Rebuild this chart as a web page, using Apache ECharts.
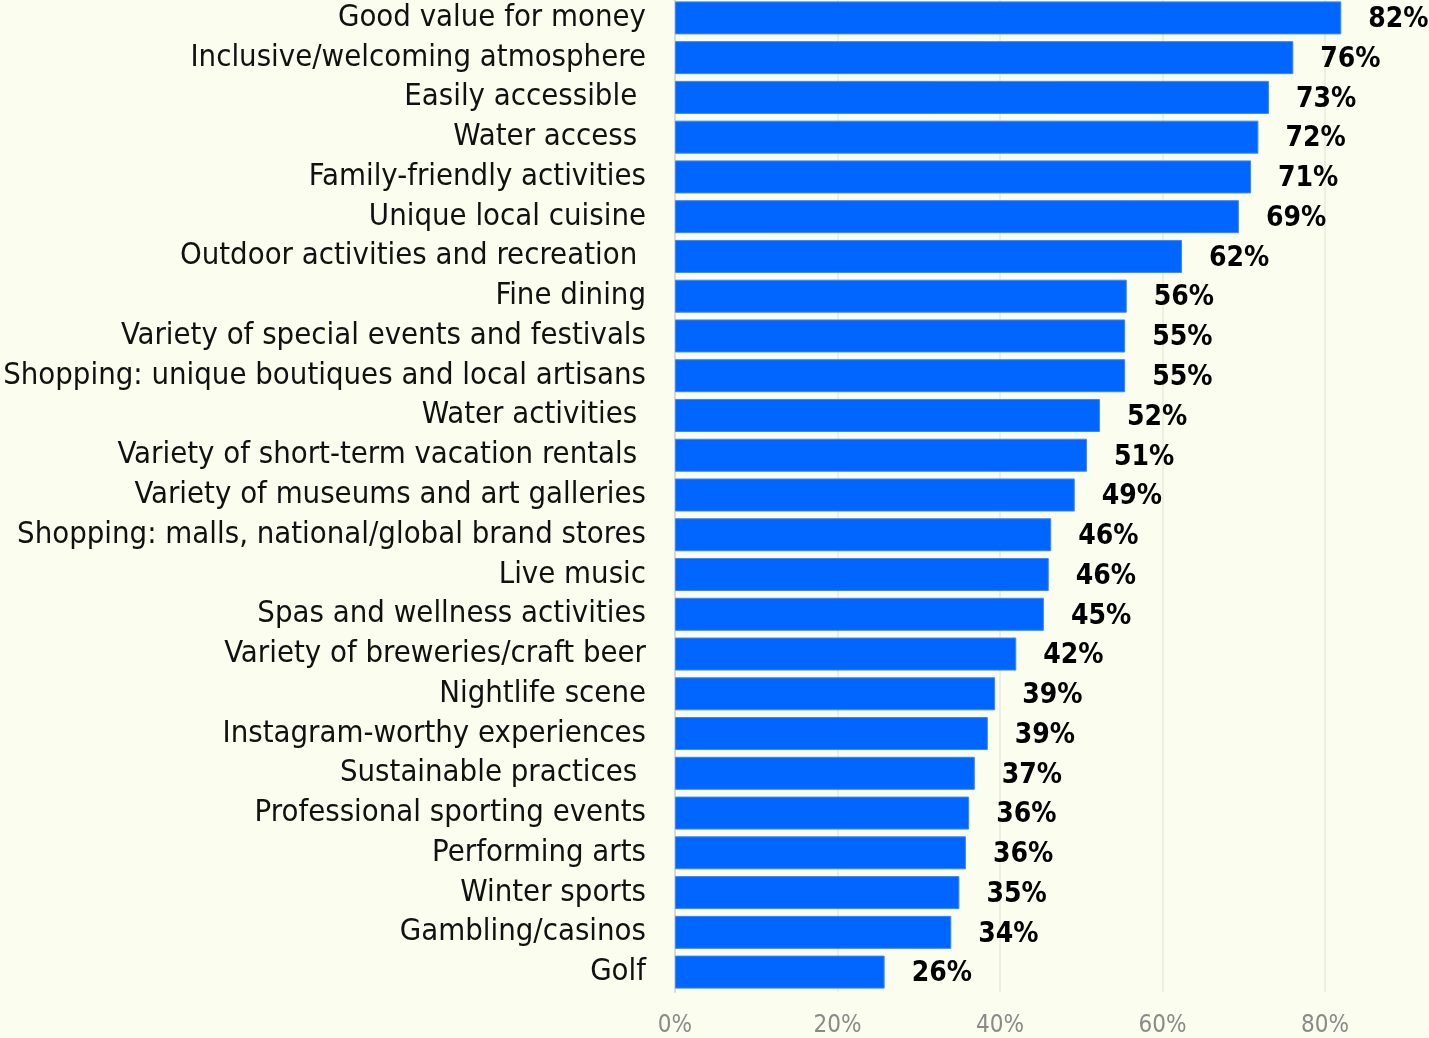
<!DOCTYPE html>
<html>
<head>
<meta charset="utf-8">
<script src="https://cdn.jsdelivr.net/npm/echarts@6/dist/echarts.min.js"></script>
<style>
  html, body { margin: 0; padding: 0; background: #fbfdee; }
  #chart { width: 1429px; height: 1038px; }
</style>
</head>
<body>
<div id="chart"></div>
<script>
const categories = [
  "Good value for money",
  "Inclusive/welcoming atmosphere",
  "Easily accessible ",
  "Water access ",
  "Family-friendly activities",
  "Unique local cuisine",
  "Outdoor activities and recreation ",
  "Fine dining",
  "Variety of special events and festivals",
  "Shopping: unique boutiques and local artisans",
  "Water activities ",
  "Variety of short-term vacation rentals ",
  "Variety of museums and art galleries",
  "Shopping: malls, national/global brand stores",
  "Live music",
  "Spas and wellness activities",
  "Variety of breweries/craft beer",
  "Nightlife scene",
  "Instagram-worthy experiences",
  "Sustainable practices ",
  "Professional sporting events",
  "Performing arts",
  "Winter sports",
  "Gambling/casinos",
  "Golf"
];

// share of respondents (%)
const values = [
  82.0, 76.1, 73.1, 71.8, 70.9, 69.4, 62.4, 55.6, 55.4, 55.4,
  52.3, 50.7, 49.2, 46.3, 46.0, 45.4, 42.0, 39.4, 38.5, 36.9,
  36.2, 35.8, 35.0, 34.0, 25.8
];

const font = "'DejaVu Sans Condensed', 'Liberation Sans Narrow', sans-serif";

const chart = echarts.init(document.getElementById("chart"));

chart.setOption({
  backgroundColor: "#fbfdee",
  animation: false,
  // x scale ends at 80%; the top bar is allowed to run past it
  grid: {
    left: 675, right: 104, top: -2, bottom: 46,
    containLabel: false, outerBoundsMode: "none"
  },
  xAxis: {
    type: "value",
    min: 0,
    max: 80,
    interval: 20,
    axisLine: { show: false },
    axisTick: { show: false },
    splitLine: { lineStyle: { color: "#e9eadc", width: 1.5 } },
    axisLabel: {
      color: "#8a8a8a",
      fontSize: 24,
      fontFamily: font,
      margin: 22,
      formatter: "{value}%"
    }
  },
  yAxis: {
    type: "category",
    inverse: true,
    data: categories,
    axisLine: { show: true, lineStyle: { color: "#d9d9cf", width: 2 } },
    axisTick: { show: false },
    axisLabel: {
      interval: 0,
      color: "#111",
      fontSize: 30.8,
      fontFamily: font,
      margin: 29
    }
  },
  series: [
    {
      type: "bar",
      data: values,
      clip: false,
      barCategoryGap: "17%",
      itemStyle: { color: "#0066ff", borderColor: "#3a85ff", borderWidth: 1 },
      label: {
        show: true,
        position: "right",
        distance: 27,
        offset: [0, 2],
        color: "#000",
        fontSize: 28,
        fontWeight: "bold",
        fontFamily: font,
        formatter: p => Math.round(p.value) + "%"
      }
    }
  ]
});
</script>
</body>
</html>
